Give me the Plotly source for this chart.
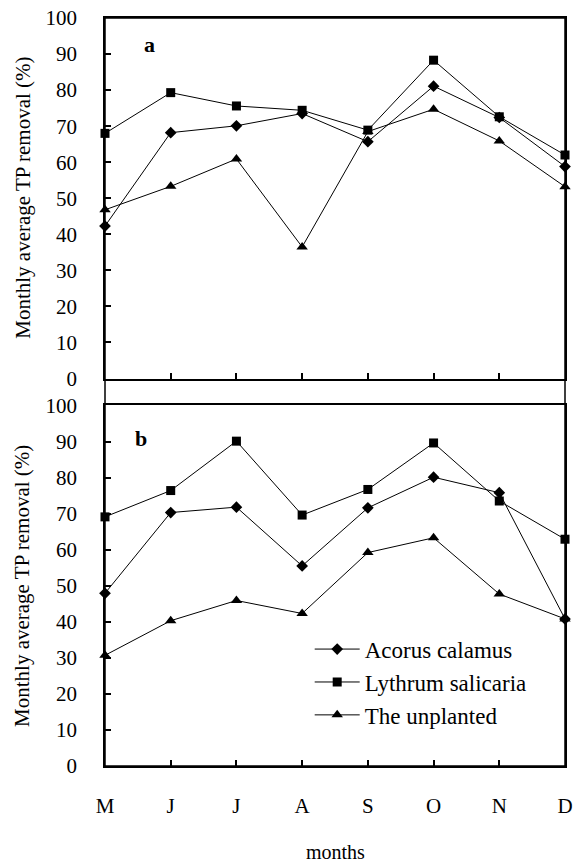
import plotly.graph_objects as go

months = ["M", "J", "J", "A", "S", "O", "N", "D"]
x_pos = list(range(len(months)))

# panel a
acorus_a = [42.3, 68.2, 70.1, 73.5, 65.7, 81.1, 72.4, 58.8]
lythrum_a = [68.0, 79.3, 75.6, 74.4, 68.9, 88.3, 72.6, 62.0]
unplanted_a = [46.8, 53.3, 60.9, 36.5, 68.5, 74.7, 65.9, 53.2]

# panel b
acorus_b = [47.9, 70.3, 71.8, 55.5, 71.6, 80.1, 75.8, 40.8]
lythrum_b = [69.1, 76.4, 90.1, 69.6, 76.7, 89.6, 73.5, 62.9]
unplanted_b = [30.7, 40.3, 45.9, 42.3, 59.2, 63.3, 47.7, 40.8]

series_names = ["Acorus calamus", "Lythrum salicaria", "The unplanted"]
symbols = ["diamond", "square", "triangle-up"]
sizes = [9, 9, 10]

y_ticks = list(range(0, 101, 10))

FONT = "Liberation Serif, Times New Roman, serif"

fig = go.Figure()

for vals, name, sym, sz in zip([acorus_a, lythrum_a, unplanted_a], series_names, symbols, sizes):
    fig.add_trace(go.Scatter(
        x=x_pos, y=vals, mode="lines+markers", name=name, showlegend=False,
        line=dict(color="black", width=1),
        marker=dict(symbol=sym, size=sz, color="black"),
        cliponaxis=False, xaxis="x", yaxis="y"))

for vals, name, sym, sz in zip([acorus_b, lythrum_b, unplanted_b], series_names, symbols, sizes):
    fig.add_trace(go.Scatter(
        x=x_pos, y=vals, mode="lines+markers", name=name, showlegend=True,
        line=dict(color="black", width=1),
        marker=dict(symbol=sym, size=sz, color="black"),
        cliponaxis=False, xaxis="x2", yaxis="y2"))

axis_common = dict(showgrid=False, zeroline=False, showline=True, linecolor="black",
                   linewidth=1.5, ticks="inside", ticklen=6, tickwidth=1.5, tickcolor="black",
                   tickfont=dict(family=FONT, size=21, color="black"))

fig.update_layout(
    width=579, height=866,
    margin=dict(l=105, r=6, t=15, b=100),
    paper_bgcolor="white", plot_bgcolor="white",
    font=dict(family=FONT, color="black"),
    xaxis=dict(domain=[0, 1], anchor="y", range=[0, 7], tickvals=x_pos, ticktext=months,
               showticklabels=False, mirror=True, **axis_common),
    yaxis=dict(domain=[0.518, 1], anchor="x", range=[0, 100], tickvals=y_ticks,
               mirror=True, ticklabelstandoff=22, **axis_common),
    xaxis2=dict(domain=[0, 1], anchor="y2", range=[0, 7], tickvals=x_pos, ticktext=months,
                mirror=True, ticklabelstandoff=20, **axis_common),
    yaxis2=dict(domain=[0, 0.482], anchor="x2", range=[0, 100], tickvals=y_ticks,
                mirror=True, ticklabelstandoff=22, **axis_common),
    legend=dict(x=0.445, y=0.185, xanchor="left", yanchor="top",
                bgcolor="rgba(0,0,0,0)", borderwidth=0, itemwidth=45,
                font=dict(family=FONT, size=23, color="black"), tracegroupgap=0),
    shapes=[dict(type="rect", xref="paper", yref="paper", x0=0, x1=1, y0=0, y1=1,
                 line=dict(color="black", width=1.5), layer="above")],
    annotations=[
        dict(text="Monthly average TP removal (%)", xref="paper", yref="paper",
             x=-0.18, y=0.760, xanchor="center", yanchor="middle", textangle=-90,
             showarrow=False, font=dict(family=FONT, size=21, color="black")),
        dict(text="Monthly average TP removal (%)", xref="paper", yref="paper",
             x=-0.18, y=0.241, xanchor="center", yanchor="middle", textangle=-90,
             showarrow=False, font=dict(family=FONT, size=21, color="black")),
        dict(text="months", xref="paper", yref="paper", x=0.5, y=-0.115,
             xanchor="center", yanchor="middle",
             showarrow=False, font=dict(family=FONT, size=20, color="black")),
        dict(text="<b>a</b>", xref="paper", yref="paper", x=0.096, y=0.964,
             xanchor="center", yanchor="middle",
             showarrow=False, font=dict(family=FONT, size=22, color="black")),
        dict(text="<b>b</b>", xref="paper", yref="paper", x=0.079, y=0.438,
             xanchor="center", yanchor="middle",
             showarrow=False, font=dict(family=FONT, size=22, color="black")),
    ],
)

fig.write_html("out.html")
